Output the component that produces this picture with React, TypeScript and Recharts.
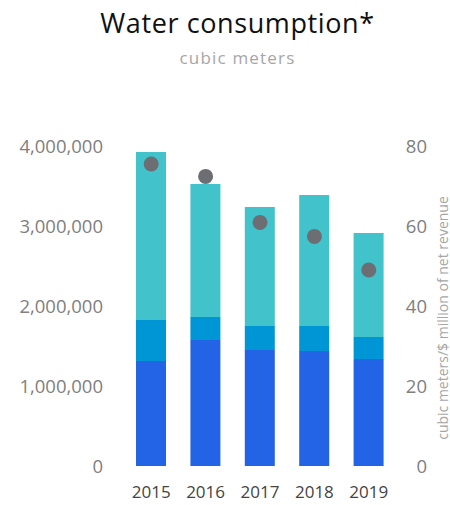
import React from "react";
import {
  ComposedChart,
  Bar,
  Line,
  XAxis,
  YAxis,
  Label,
} from "recharts";

const years = ["2015", "2016", "2017", "2018", "2019"];
const groundwater = [1312500, 1575000, 1450000, 1437500, 1337500];
const municipal = [512500, 287500, 300000, 312500, 275000];
const otherSources = [2100000, 1662500, 1487500, 1637500, 1300000];
const intensity = [75.5, 72.4, 60.9, 57.4, 49];

const leftTicks = [0, 1000000, 2000000, 3000000, 4000000];
const rightTicks = [0, 20, 40, 60, 80];

const data = years.map((year, i) => ({
  year,
  groundwater: groundwater[i],
  municipal: municipal[i],
  otherSources: otherSources[i],
  intensity: intensity[i],
}));

const tickFont = { fontFamily: "Open Sans", fontSize: 18.5, fill: "#808080" };

const RightAxisLabel = (props: any) => {
  const vb = props.viewBox;
  const x = vb.x + vb.width - 8;
  const y = vb.y + vb.height / 2 + 12;
  return (
    <text
      x={x}
      y={y}
      transform={`rotate(-90, ${x}, ${y})`}
      textAnchor="middle"
      dominantBaseline="central"
      fontFamily="Open Sans"
      fontSize={14}
      fill="#a6a6a6"
    >
      cubic meters/$ million of net revenue
    </text>
  );
};

const App: React.FC = () => {
  return (
    <div
      style={{
        position: "absolute",
        left: 0,
        top: 0,
        width: 450,
        height: 505,
        background: "#fff",
      }}
    >
      <div
        style={{
          position: "absolute",
          top: 4,
          left: 0,
          width: 475,
          textAlign: "center",
          fontFamily: "Open Sans",
          fontSize: 27,
          letterSpacing: 0.6,
          color: "#111",
        }}
      >
        Water consumption*
      </div>
      <div
        style={{
          position: "absolute",
          top: 46,
          left: 0,
          width: 475,
          textAlign: "center",
          fontFamily: "Open Sans",
          fontSize: 17,
          letterSpacing: 1.2,
          color: "#a6a6a6",
        }}
      >
        cubic meters
      </div>
      <ComposedChart
        width={450}
        height={505}
        data={data}
        margin={{ top: 146, right: 0, bottom: 0, left: 0 }}
        barCategoryGap={24}
      >
        <XAxis
          dataKey="year"
          axisLine={false}
          tickLine={false}
          height={39}
          tickMargin={14}
          tick={{ fontFamily: "Open Sans", fontSize: 17, fill: "#444" }}
        />
        <YAxis
          yAxisId="left"
          orientation="left"
          width={124}
          domain={[0, 4000000]}
          ticks={leftTicks}
          axisLine={false}
          tickLine={false}
          tickMargin={15}
          tick={tickFont}
          tickFormatter={(v: number) => v.toLocaleString("en-US")}
        />
        <YAxis
          yAxisId="right"
          orientation="right"
          width={54}
          domain={[0, 80]}
          ticks={rightTicks}
          axisLine={false}
          tickLine={false}
          tickMargin={25}
          tick={{ ...tickFont, textAnchor: "end" }}
        >
          <Label content={RightAxisLabel} />
        </YAxis>
        <Bar
          yAxisId="left"
          dataKey="groundwater"
          stackId="a"
          fill="#2264e5"
          barSize={30}
          isAnimationActive={false}
        />
        <Bar
          yAxisId="left"
          dataKey="municipal"
          stackId="a"
          fill="#0095d5"
          barSize={30}
          isAnimationActive={false}
        />
        <Bar
          yAxisId="left"
          dataKey="otherSources"
          stackId="a"
          fill="#42c2cb"
          barSize={30}
          isAnimationActive={false}
        />
        <Line
          yAxisId="right"
          dataKey="intensity"
          stroke="none"
          dot={{ r: 7.5, fill: "#6d6e73", stroke: "none" }}
          activeDot={false}
          isAnimationActive={false}
        />
      </ComposedChart>
    </div>
  );
};

export default App;
